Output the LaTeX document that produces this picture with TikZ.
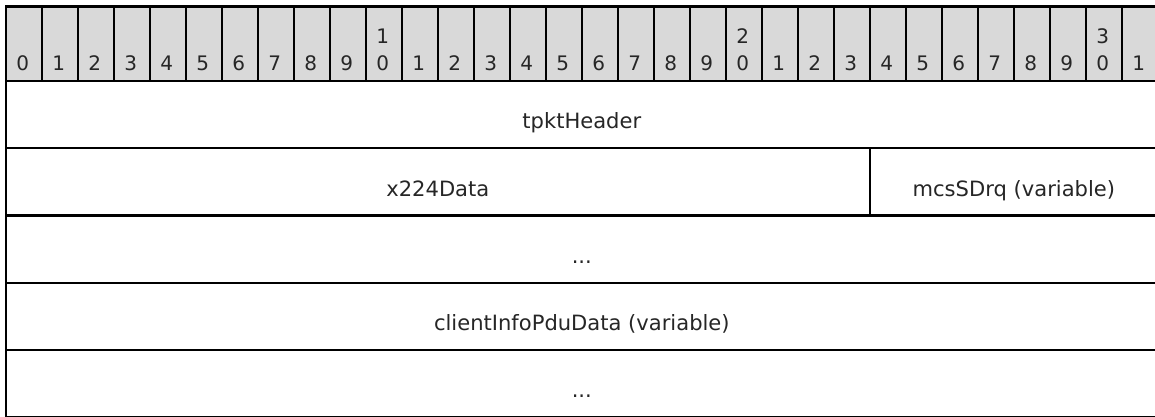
\documentclass[tikz,border=0pt]{standalone}
\usepackage{fontspec}
\setmainfont{DejaVu Sans}
\definecolor{hdr}{RGB}{217,217,217}
\begin{document}
\begin{tikzpicture}[x=0.75pt,y=-0.75pt,
  bitcell/.style={draw=black, line width=1.7pt, fill=hdr, inner sep=0pt, anchor=north west,
    minimum width=27pt, minimum height=56.1pt},
  bitnum/.style={anchor=base, inner sep=0pt, font=\fontsize{15pt}{18pt}\selectfont, text=black!85},
  field/.style={draw=black, line width=1.7pt, inner sep=0pt, anchor=north west,
    minimum height=50.4pt},
  lbl/.style={anchor=base, inner sep=0pt, font=\fontsize{15.8pt}{19pt}\selectfont, text=black!85}]
\fill[white] (0,0) rectangle (1155,417);
\useasboundingbox (0,0) rectangle (1155,417);
% header row
\foreach \i in {0,...,31}{
  \node[bitcell] (b\i) at ({4.7+36*\i},5.3) {};
  \pgfmathtruncatemacro{\u}{mod(\i,10)}
  \pgfmathtruncatemacro{\t}{\i/10}
  \node[bitnum] (u\i) at ({22.7+36*\i},71) {\u};
  \ifnum\u=0 \ifnum\t>0
    \node[bitnum] (t\i) at ({22.7+36*\i},43.5) {\t};
  \fi\fi
}
% fields
\node[field, minimum width=864pt] (f1) at (4.7,80) {};
\node[field, minimum width=648pt] (f2) at (4.7,147.2) {};
\node[field, minimum width=216pt] (f3) at (868.7,147.2) {};
\node[field, minimum width=864pt] (f4) at (4.7,214.4) {};
\node[field, minimum width=864pt] (f5) at (4.7,281.6) {};
\node[field, minimum width=864pt] (f6) at (4.7,348.8) {};
% labels
\node[lbl] (l1) at ([yshift=-36.75pt]f1.north) {tpktHeader};
\node[lbl] (l2) at ([yshift=-36.75pt]f2.north) {x224Data};
\node[lbl] (l3) at ([yshift=-36.75pt]f3.north) {mcsSDrq (variable)};
\node[lbl] (l4) at ([yshift=-36.75pt]f4.north) {...};
\node[lbl] (l5) at ([yshift=-36.75pt]f5.north) {clientInfoPduData (variable)};
\node[lbl] (l6) at ([yshift=-36.75pt]f6.north) {...};
\end{tikzpicture}
\end{document}
